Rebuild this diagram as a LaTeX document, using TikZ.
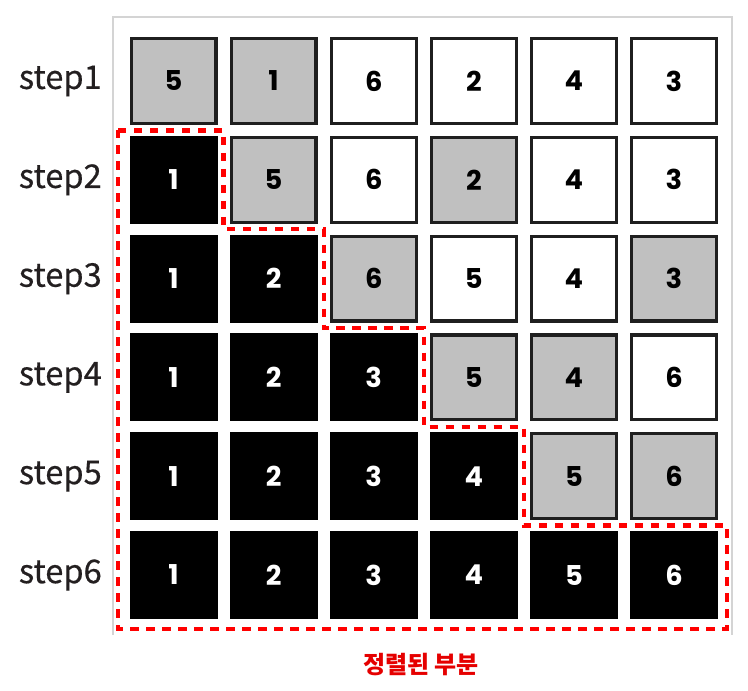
\documentclass[tikz,border=0pt]{standalone}
\usepackage{fontspec}
\newfontfamily\labelfont{Noto Sans CJK KR}
\newfontfamily\steplabelfont[FakeBold=0.5]{Noto Sans CJK KR}
\newfontfamily\numfont{Poppins}
\usetikzlibrary{positioning}

\definecolor{cellgray}{HTML}{C0C0C0}
\definecolor{framegray}{HTML}{D4D4D4}
\definecolor{labeltext}{HTML}{231F20}

\tikzset{
    cellbase/.style={draw=black!88, line width=2.4pt, minimum size=63.6pt,
        inner sep=0pt, font=\numfont\fontseries{sb}\selectfont\fontsize{20.5}{20.5}\selectfont},
    cellb/.style={cellbase, fill=black, draw=black, text=white},
    cellg/.style={cellbase, fill=cellgray, text=black},
    cellw/.style={cellbase, fill=white, text=black},
    steplabel/.style={anchor=east, text=labeltext, inner sep=0pt,
        font=\steplabelfont\fontsize{24.5}{24.5}\selectfont}
}

\begin{document}
\begin{tikzpicture}[x=0.75pt, y=-0.75pt]

    % Picture size in pixels of the reference
    \useasboundingbox (0,0) rectangle (748,690);

    % Light frame on three sides
    \draw[framegray, line width=1.1pt] (113,635) -- (113,17) -- (732,17) -- (732,635);

    % Rows of the sort: b = sorted (black), g = compared (gray), w = other
    \foreach \r/\cells in {
        1/{g/5,g/1,w/6,w/2,w/4,w/3},
        2/{b/1,g/5,w/6,g/2,w/4,w/3},
        3/{b/1,b/2,g/6,w/5,w/4,g/3},
        4/{b/1,b/2,b/3,g/5,g/4,w/6},
        5/{b/1,b/2,b/3,b/4,g/5,g/6},
        6/{b/1,b/2,b/3,b/4,b/5,b/6}}
    {
        % Row label
        \node[steplabel] (step\r) at (102,{81+(\r-1)*98.8}) {step\r};
        % Cells of the row
        \foreach \s/\v [count=\i] in \cells
            \node[cell\s] (c-\r-\i) at ({173.5+(\i-1)*100.1},{81+(\r-1)*98.8}) {\v};
    }

    % Outline of the sorted part
    \draw[red, line width=3.2pt, dash pattern=on 6.2pt off 5.8pt]
        (118,130.4) -- (223.6,130.4) -- (223.6,229.2) -- (323.7,229.2)
        -- (323.7,328) -- (423.8,328) -- (423.8,426.8) -- (523.9,426.8)
        -- (523.9,525.6) -- (727,525.6) -- (727,629) -- (118,629) -- cycle;

    % Caption
    \node[text=red!90!black, font=\labelfont\bfseries\fontsize{18}{18}\selectfont]
        (caption) at (421,665) {정렬된 부분};

\end{tikzpicture}
\end{document}
